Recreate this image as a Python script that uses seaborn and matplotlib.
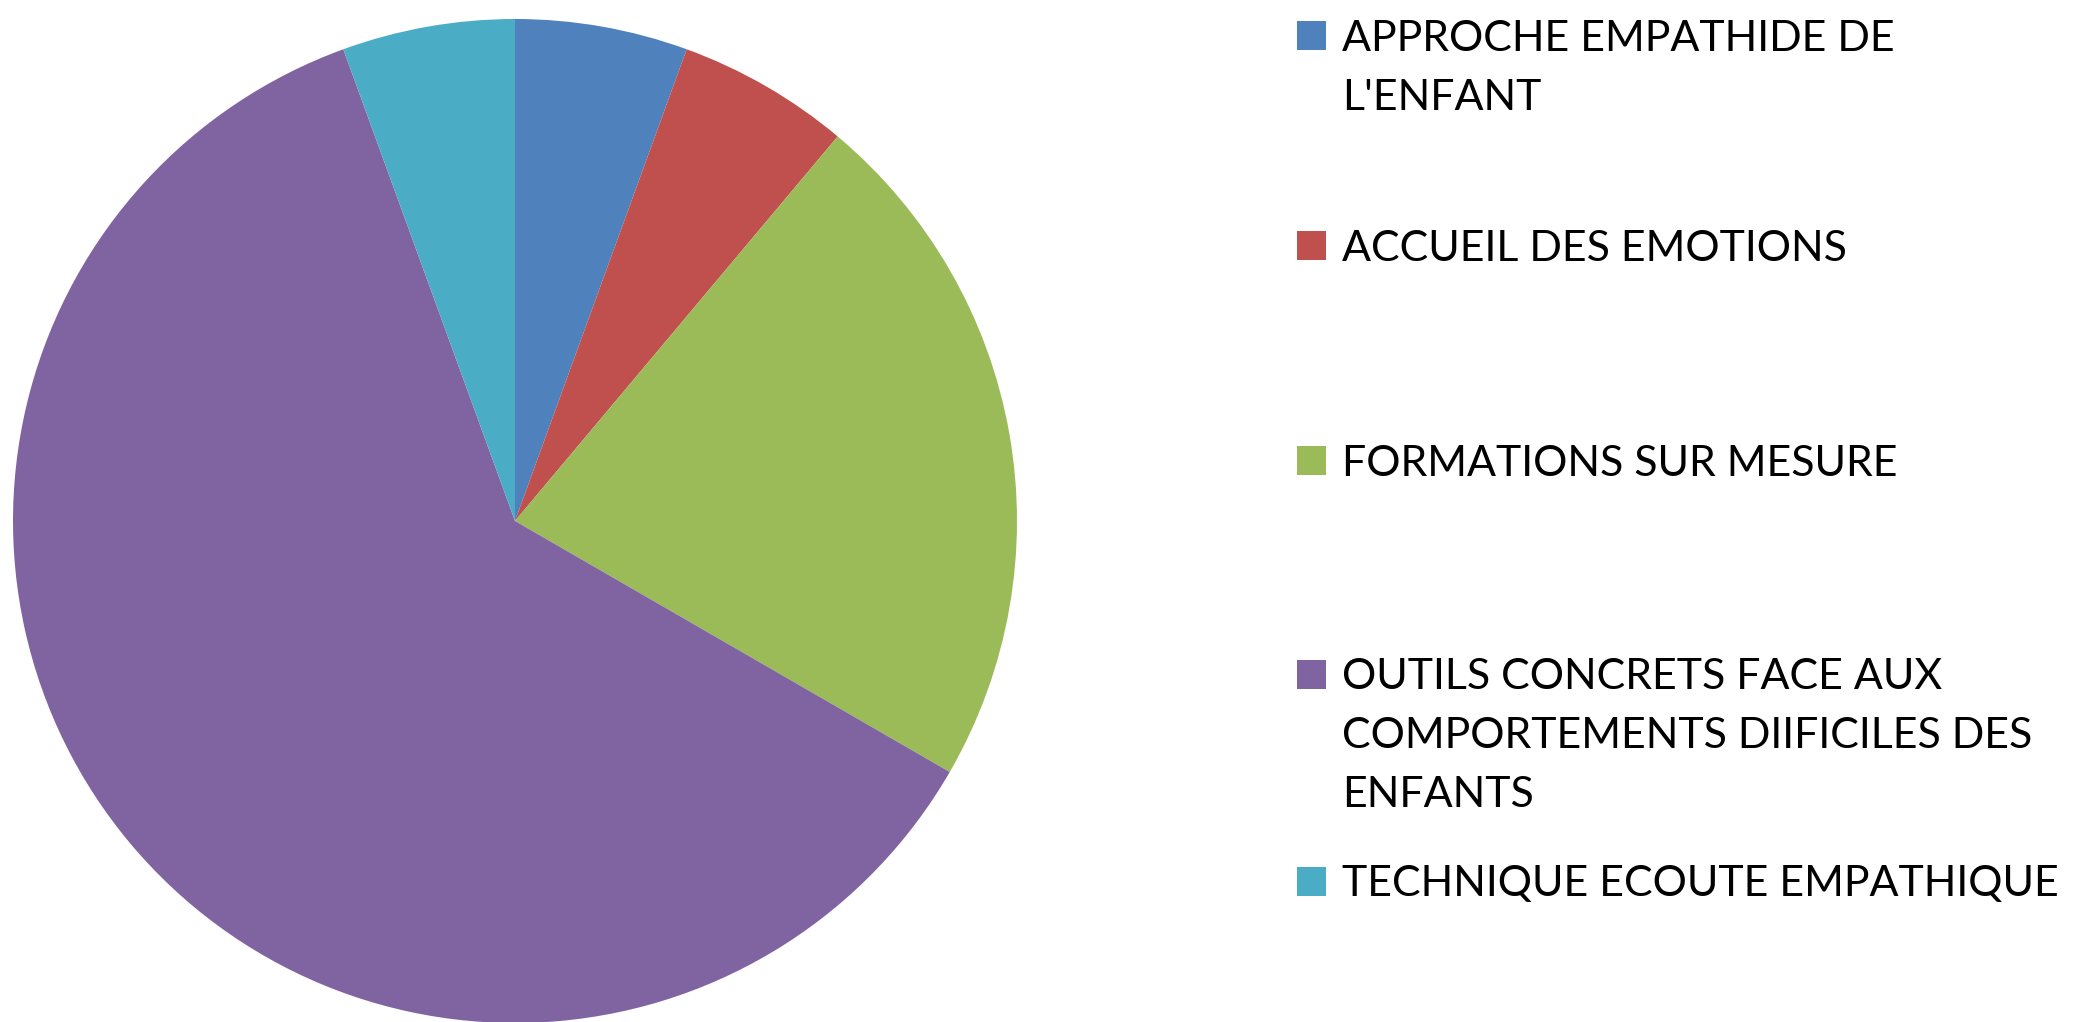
import matplotlib
matplotlib.use("Agg")
import matplotlib.pyplot as plt
from matplotlib import font_manager
from matplotlib.patches import Rectangle
import seaborn as sns

# Data
labels = [
    "APPROCHE EMPATHIDE DE\nL'ENFANT",
    "ACCUEIL DES EMOTIONS",
    "FORMATIONS SUR MESURE",
    "OUTILS CONCRETS FACE AUX\nCOMPORTEMENTS DIIFICILES DES\nENFANTS",
    "TECHNIQUE ECOUTE EMPATHIQUE",
]
counts = [1, 1, 4, 11, 1]
colors = ["#4F81BD", "#C0504D", "#9BBB59", "#8064A2", "#4BACC6"]

sns.set_theme(style="white")

available = {f.name for f in font_manager.fontManager.ttflist}
font = "Liberation Sans Narrow" if "Liberation Sans Narrow" in available else "Lato"
plt.rcParams["font.family"] = [font, "DejaVu Sans"]

W, H = 2084, 1022
fig = plt.figure(figsize=(W / 100, H / 100), dpi=100)

# pie: center (515, 521) px, radius 502 px
cx, cy, r = 515, 521, 502
ax = fig.add_axes([(cx - r) / W, (H - cy - r) / H, 2 * r / W, 2 * r / H])
ax.pie(counts, colors=colors, startangle=90, counterclock=False,
       wedgeprops=dict(linewidth=0), radius=1.0)
ax.set_xlim(-1, 1)
ax.set_ylim(-1, 1)
ax.set_aspect("equal")
ax.axis("off")

# legend, Excel style: square next to first line of each entry
first_line_y = [36, 246, 461, 674, 881]
line_gap = 59
fsize = 30.9 if font == "Lato" else 35.5  # points at dpi 100
cap_h = fsize * 100 / 72 * 0.72
sq = 29
for lab, col, y0 in zip(labels, colors, first_line_y):
    fig.patches.append(Rectangle((1297 / W, (H - y0 - sq / 2) / H), sq / W, sq / H,
                                 transform=fig.transFigure, facecolor=col,
                                 edgecolor="none"))
    for i, line in enumerate(lab.split("\n")):
        yb = y0 + i * line_gap + cap_h / 2
        fig.text(1342 / W, (H - yb) / H, line, fontsize=fsize,
                 va="baseline", ha="left", color="black")

fig.savefig("out.png", dpi=100, facecolor="white")
